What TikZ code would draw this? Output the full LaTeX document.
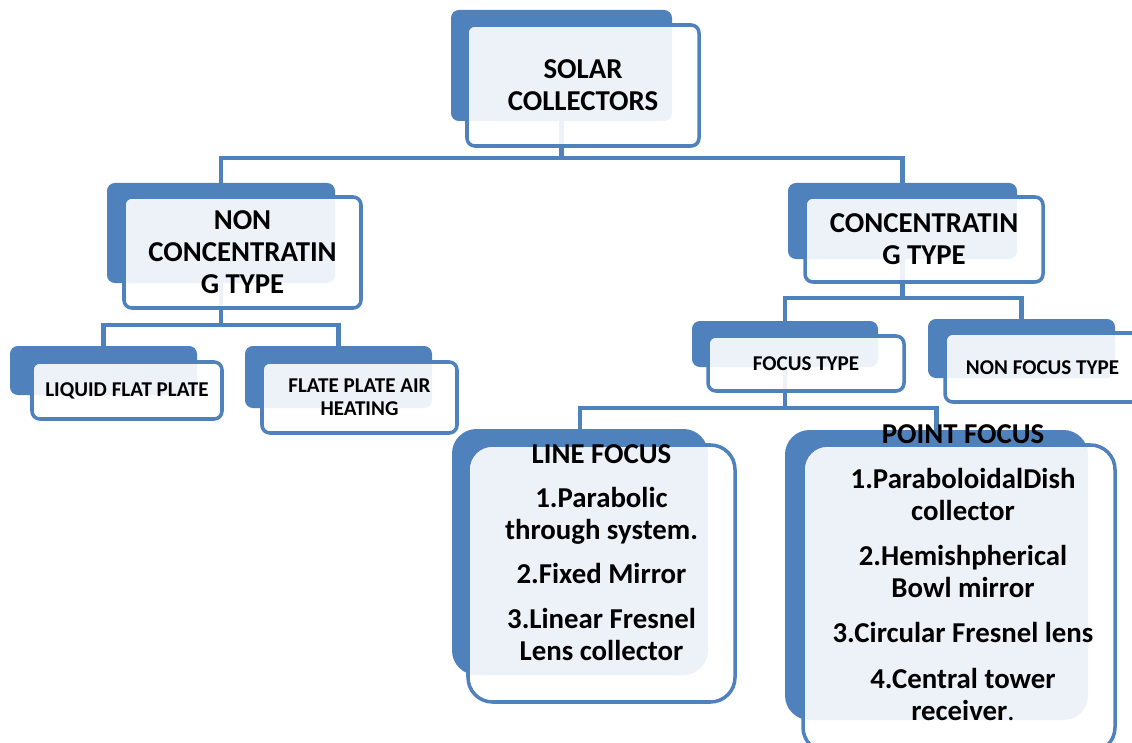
\documentclass[tikz,border=0pt]{standalone}
\usepackage{fontspec}
\setmainfont{Carlito}
\usetikzlibrary{positioning,fit,backgrounds}
\definecolor{boxblue}{HTML}{4F81BD}
\tikzset{
  backbox/.style={fill=boxblue, rounded corners=4.5pt, inner sep=0pt},
  frontbox/.style={draw=boxblue, line width=2pt, fill=white, fill opacity=0.9,
    rounded corners=4.5pt, inner sep=0pt},
  bigtext/.style={font=\fontsize{16.4}{18.2}\selectfont\bfseries, align=center, inner sep=0pt},
  smalltext/.style={font=\fontsize{12}{13}\selectfont\bfseries, align=center, inner sep=0pt},
  conn/.style={draw=boxblue, line width=2.3pt},
}

\begin{document}
\begin{tikzpicture}[x=0.02cm, y=-0.02cm]
    \useasboundingbox (0,0) rectangle (1132,743);
    \clip (0,0) rectangle (1132,743);

    % top
    \node[backbox, fit={(451,10) (672,121)}] (solarb) {};
    \node[frontbox, fit={(467,25) (699,146)}] (solar) {};
    \node[bigtext] (solartxt) at (solar.center) {SOLAR\\COLLECTORS};

    % second level
    \node[backbox, fit={(107,183) (335,283)}] (ncb) {};
    \node[frontbox, fit={(124,197) (361,308)}] (nc) {};
    \node[bigtext] (nctxt) at (nc.center) {NON\\CONCENTRATIN\\G TYPE};
    \node[backbox, fit={(788,183) (1017,259)}] (cb) {};
    \node[frontbox, fit={(805,197) (1043,282)}] (conc) {};
    \node[bigtext] (conctxt) at (conc.center) {CONCENTRATIN\\G TYPE};

    % non concentrating branch
    \node[backbox, fit={(10,346) (197,395)}] (liqb) {};
    \node[frontbox, fit={(32,362) (222,419)}] (liq) {};
    \node[smalltext] (liqtxt) at (liq.center) {LIQUID FLAT PLATE};
    \node[backbox, fit={(245,346) (432,408)}] (flateb) {};
    \node[frontbox, fit={(262,362) (457,433)}] (flate) {};
    \node[smalltext] (flatetxt) at (flate.center) {FLATE PLATE AIR\\HEATING};

    % concentrating branch
    \node[backbox, fit={(692,321) (878,367)}] (focb) {};
    \node[frontbox, fit={(708,336) (904,391)}] (foc) {};
    \node[smalltext] (foctxt) at (foc.center) {FOCUS TYPE};
    \node[backbox, fit={(928,319) (1115,378)}] (nfocb) {};
    \node[frontbox, fit={(945,333) (1140,402)}] (nfoc) {};
    \node[smalltext] (nfoctxt) at (nfoc.center) {NON FOCUS TYPE};

    % focus types
    \node[backbox, rounded corners=14pt, fit={(452,429) (708,675)}] (lineb) {};
    \node[frontbox, rounded corners=14pt, fit={(468,445) (735,702)}] (line) {};
    \node[bigtext] (linetxt) at (601.5,552.5)
        {LINE FOCUS\\[7pt] 1.Parabolic\\through system.\\[7pt] 2.Fixed Mirror\\[7pt]
         3.Linear Fresnel\\Lens collector};
    \node[backbox, rounded corners=14pt, fit={(785,430) (1088,720)}] (pointb) {};
    \node[frontbox, rounded corners=14pt, fit={(803,445) (1115,752)}] (point) {};
    \node[bigtext] (pointtxt) at (963,572.5)
        {POINT FOCUS\\[7.5pt] 1.ParaboloidalDish\\collector\\[7.5pt] 2.Hemishpherical\\Bowl mirror\\[7.5pt]
         3.Circular Fresnel lens\\[7.5pt] 4.Central tower\\receiver{\mdseries .}};

    \coordinate (busA) at (561.5,158);
    \coordinate (busB) at (221,325);
    \coordinate (busC) at (902.5,298);
    \coordinate (busD) at (785,408);

    \begin{scope}[on background layer]
        \draw[conn] (solarb.center) -- (busA);
        \draw[conn] (ncb.center) |- (busA) -| (cb.center);
        \draw[conn] (ncb.center) -- (busB);
        \draw[conn] (liqb.center) |- (busB) -| (flateb.center);
        \draw[conn] (cb.center) -- (busC);
        \draw[conn] (focb.center) |- (busC) -| (nfocb.center);
        \draw[conn] (focb.center) -- (busD);
        \draw[conn] (lineb.center) |- (busD) -| (pointb.center);
    \end{scope}
\end{tikzpicture}
\end{document}
